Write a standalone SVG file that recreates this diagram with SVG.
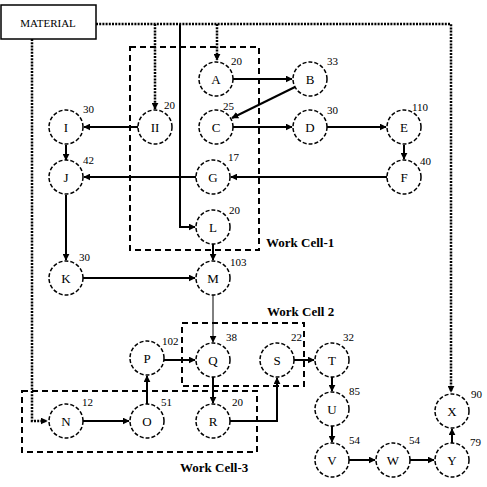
<svg xmlns="http://www.w3.org/2000/svg" width="487" height="487" viewBox="0 0 487 487">
<style>
.node circle{fill:#fff;stroke:#000;stroke-width:1.5;stroke-dasharray:4 2}
.node text{font-family:"Liberation Serif",serif;font-size:13px;text-anchor:middle;dominant-baseline:central;fill:#000}
.num{font-family:"Liberation Serif",serif;font-size:11px;fill:#000}
.e{fill:none;stroke:#000;stroke-width:2}
.thin{stroke-width:1}
.dot{fill:none;stroke:#000;stroke-width:2.5;stroke-dasharray:2 1.2}
.cell{fill:none;stroke:#000;stroke-width:2;stroke-dasharray:6 4}
.lbl{font-family:"Liberation Serif",serif;font-size:13px;font-weight:bold;fill:#000}
</style>
<defs>
<marker id="ah2" viewBox="0 0 10 10" refX="9" refY="5" markerWidth="7" markerHeight="7" markerUnits="userSpaceOnUse" orient="auto">
<path d="M0,0L10,5L0,10z" fill="#000"/>
</marker>
</defs>
<rect width="487" height="487" fill="#fff"/>

<g id="cells">
<rect class="cell" x="130" y="47" width="129" height="203"/>
<text class="lbl" x="266" y="247">Work Cell-1</text>
<rect class="cell" x="182" y="323" width="122" height="63"/>
<text class="lbl" x="267" y="316">Work Cell 2</text>
<rect class="cell" x="22" y="391" width="235" height="61"/>
<text class="lbl" x="180" y="472">Work Cell-3</text>
</g>

<g id="material">
<rect x="1" y="5" width="95" height="34" fill="#fff" stroke="#000" stroke-width="1.5"/>
<text x="48" y="23" font-family="Liberation Serif,serif" font-size="11" text-anchor="middle" dominant-baseline="central">MATERIAL</text>
</g>

<g id="connectors">
<path class="dot" d="M96,24H451V392" marker-end="url(#ah2)"/>
<path class="dot" d="M32,39V421H47" marker-end="url(#ah2)"/>
<path class="dot" d="M155,24V109" marker-end="url(#ah2)"/>
<path class="dot" d="M217,24V60" marker-end="url(#ah2)"/>
<path class="e" d="M180,24V227H195" marker-end="url(#ah2)"/>
<path class="e" d="M233,79H292" marker-end="url(#ah2)"/>
<path class="e" d="M295,87L232,118" marker-end="url(#ah2)"/>
<path class="e" d="M233,127H292" marker-end="url(#ah2)"/>
<path class="e" d="M327,127H386" marker-end="url(#ah2)"/>
<path class="e" d="M404,145V159" marker-end="url(#ah2)"/>
<path class="e" d="M387,177H231" marker-end="url(#ah2)"/>
<path class="e" d="M196,177H84" marker-end="url(#ah2)"/>
<path class="e" d="M138,127H84" marker-end="url(#ah2)"/>
<path class="e" d="M66,145V160" marker-end="url(#ah2)"/>
<path class="e" d="M66,195V260" marker-end="url(#ah2)"/>
<path class="e" d="M83,278H195" marker-end="url(#ah2)"/>
<path class="e" d="M213,244V260" marker-end="url(#ah2)"/>
<path class="e thin" d="M213,295V342" marker-end="url(#ah2)"/>
<path class="e" d="M164,360H195" marker-end="url(#ah2)"/>
<path class="e" d="M147,404V376" marker-end="url(#ah2)"/>
<path class="e" d="M83,421H129" marker-end="url(#ah2)"/>
<path class="e" d="M213,377V403" marker-end="url(#ah2)"/>
<path class="e" d="M230,421H277V378" marker-end="url(#ah2)"/>
<path class="e" d="M294,360H314" marker-end="url(#ah2)"/>
<path class="e" d="M332,377V391" marker-end="url(#ah2)"/>
<path class="e" d="M332,426V442" marker-end="url(#ah2)"/>
<path class="e" d="M349,460H375" marker-end="url(#ah2)"/>
<path class="e" d="M410,460H434" marker-end="url(#ah2)"/>
<path class="e" d="M452,443V429" marker-end="url(#ah2)"/>
</g>

<g id="nA" class="node"><circle cx="216" cy="79" r="17"/><text x="216" y="79">A</text></g>
<text class="num" x="231" y="65">20</text>
<g id="nB" class="node"><circle cx="310" cy="79" r="17"/><text x="310" y="79">B</text></g>
<text class="num" x="327" y="65">33</text>
<g id="nC" class="node"><circle cx="216" cy="127" r="17"/><text x="216" y="127">C</text></g>
<text class="num" x="223" y="110">25</text>
<g id="nD" class="node"><circle cx="310" cy="127" r="17"/><text x="310" y="127">D</text></g>
<text class="num" x="327" y="114">30</text>
<g id="nE" class="node"><circle cx="404" cy="127" r="17"/><text x="404" y="127">E</text></g>
<text class="num" x="412" y="111">110</text>
<g id="nF" class="node"><circle cx="404" cy="177" r="17"/><text x="404" y="177">F</text></g>
<text class="num" x="420" y="165">40</text>
<g id="nG" class="node"><circle cx="213" cy="177" r="17"/><text x="213" y="177">G</text></g>
<text class="num" x="228" y="161">17</text>
<g id="nH" class="node"><circle cx="155" cy="127" r="17"/><text x="155" y="127">II</text></g>
<text class="num" x="164" y="109">20</text>
<g id="nI" class="node"><circle cx="66" cy="127" r="17"/><text x="66" y="127">I</text></g>
<text class="num" x="83" y="113">30</text>
<g id="nJ" class="node"><circle cx="66" cy="177" r="17"/><text x="66" y="177">J</text></g>
<text class="num" x="83" y="164">42</text>
<g id="nL" class="node"><circle cx="213" cy="227" r="17"/><text x="213" y="227">L</text></g>
<text class="num" x="229" y="214">20</text>
<g id="nK" class="node"><circle cx="66" cy="278" r="17"/><text x="66" y="278">K</text></g>
<text class="num" x="79" y="261">30</text>
<g id="nM" class="node"><circle cx="213" cy="278" r="17"/><text x="213" y="278">M</text></g>
<text class="num" x="230" y="266">103</text>
<g id="nP" class="node"><circle cx="147" cy="358" r="17"/><text x="147" y="358">P</text></g>
<text class="num" x="162" y="345">102</text>
<g id="nQ" class="node"><circle cx="213" cy="360" r="17"/><text x="213" y="360">Q</text></g>
<text class="num" x="226" y="341">38</text>
<g id="nS" class="node"><circle cx="277" cy="360" r="17"/><text x="277" y="360">S</text></g>
<text class="num" x="291" y="341">22</text>
<g id="nT" class="node"><circle cx="332" cy="360" r="17"/><text x="332" y="360">T</text></g>
<text class="num" x="343" y="341">32</text>
<g id="nU" class="node"><circle cx="332" cy="409" r="17"/><text x="332" y="409">U</text></g>
<text class="num" x="349" y="395">85</text>
<g id="nV" class="node"><circle cx="332" cy="460" r="17"/><text x="332" y="460">V</text></g>
<text class="num" x="349" y="444">54</text>
<g id="nW" class="node"><circle cx="393" cy="460" r="17"/><text x="393" y="460">W</text></g>
<text class="num" x="409" y="444">54</text>
<g id="nX" class="node"><circle cx="452" cy="411" r="17"/><text x="452" y="411">X</text></g>
<text class="num" x="471" y="398">90</text>
<g id="nY" class="node"><circle cx="452" cy="460" r="17"/><text x="452" y="460">Y</text></g>
<text class="num" x="470" y="446">79</text>
<g id="nN" class="node"><circle cx="66" cy="421" r="17"/><text x="66" y="421">N</text></g>
<text class="num" x="82" y="406">12</text>
<g id="nO" class="node"><circle cx="147" cy="421" r="17"/><text x="147" y="421">O</text></g>
<text class="num" x="161" y="406">51</text>
<g id="nR" class="node"><circle cx="213" cy="421" r="17"/><text x="213" y="421">R</text></g>
<text class="num" x="232" y="406">20</text>
</svg>
